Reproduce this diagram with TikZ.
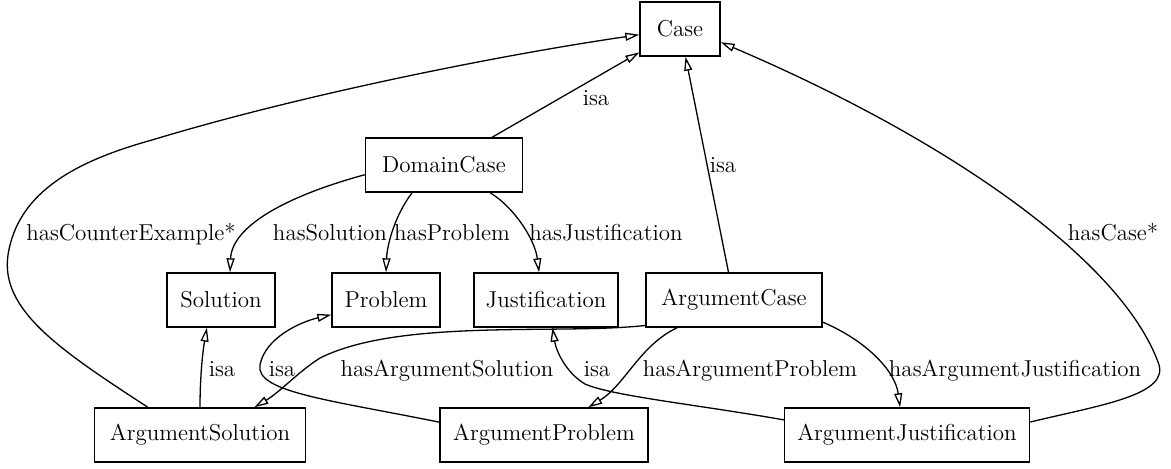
\documentclass[tikz,border=0pt]{standalone}
\usetikzlibrary{arrows.meta}
\begin{document}
\begin{tikzpicture}[x=0.5pt, y=-0.5pt,
	cls/.style={draw, line width=0.7pt, minimum height=27pt, inner sep=0pt, font=\fontsize{11.5}{13}\selectfont},
	lbl/.style={anchor=base, inner sep=0pt, font=\fontsize{11.5}{13}\selectfont},
	rel/.style={line width=0.65pt, -{Triangle[open, length=7pt, width=4pt]}}]
	\useasboundingbox (0,0) rectangle (1171,468);
	\node [cls, minimum width=40pt] (case) at (680,29) {Case};
	\node [cls, minimum width=78.5pt] (dc) at (444,165) {DomainCase};
	\node [cls, minimum width=54pt] (sol) at (221,300) {Solution};
	\node [cls, minimum width=54pt] (prob) at (386,300) {Problem};
	\node [cls, minimum width=72pt] (just) at (546,300) {Justification};
	\node [cls, minimum width=88pt] (ac) at (734,300) {ArgumentCase};
	\node [cls, minimum width=105.5pt] (asol) at (200,435) {ArgumentSolution};
	\node [cls, minimum width=104pt] (ap) at (544,435) {ArgumentProblem};
	\node [cls, minimum width=122.5pt] (aj) at (907,435) {ArgumentJustification};
	
	\draw [rel] (dc) -- (case);
	\node [lbl] (isa1) at (596,105) {isa};
	\draw [rel] (ac) -- (case);
	\node [lbl] (isa2) at (723,172) {isa};
	\draw [rel] (asol.152) .. controls (60,350) and (0,310) .. (8,255) .. controls (18,190) and (80,160) .. (152,140) .. controls (300,95) and (500,55) .. (case.188);
	\node [lbl] (lcounter) at (131,240) {hasCounterExample*};
	\draw [rel] (aj.6) .. controls (1100,405) and (1172,395) .. (1158,362) .. controls (1120,260) and (950,140) .. (case.-18);
	\node [lbl] (lcase) at (1113,240) {hasCase*};
	
	\draw [rel] (dc.187) .. controls (290,195) and (232,225) .. (sol.72);
	\node [lbl] (lsol) at (330,240) {hasSolution};
	\draw [rel] (dc.221) .. controls (395,215) and (387,245) .. (prob.north);
	\node [lbl] (lprob) at (452,240) {hasProblem};
	\draw [rel] (dc.-31) .. controls (515,208) and (535,240) .. (just.104);
	\node [lbl] (ljust) at (606,240) {hasJustification};
	
	\draw [rel] (asol.north) .. controls (200,375) and (203,350) .. (sol.-117);
	\node [lbl] (isa3) at (222,376) {isa};
	\draw [rel] (ap.173) .. controls (330,400) and (255,392) .. (260,365) .. controls (265,338) and (300,322) .. (prob.195);
	\node [lbl] (isa4) at (282,376) {isa};
	\draw [rel] (aj.173) .. controls (700,405) and (612,396) .. (585,384) .. controls (565,372) and (556,350) .. (just.-77);
	\node [lbl] (isa5) at (597,376) {isa};
	
	\draw [rel] (ac.196) .. controls (560,335) and (400,318) .. (320,358) .. controls (298,372) and (280,392) .. (asol.27);
	\node [lbl] (lasol) at (447,376) {hasArgumentSolution};
	\draw [rel] (ac.206) .. controls (640,345) and (625,385) .. (ap.32);
	\node [lbl] (lap) at (750,376) {hasArgumentProblem};
	\draw [rel] (ac.-14) .. controls (865,340) and (895,370) .. (aj.104);
	\node [lbl] (laj) at (1015,376) {hasArgumentJustification};
\end{tikzpicture}
\end{document}
